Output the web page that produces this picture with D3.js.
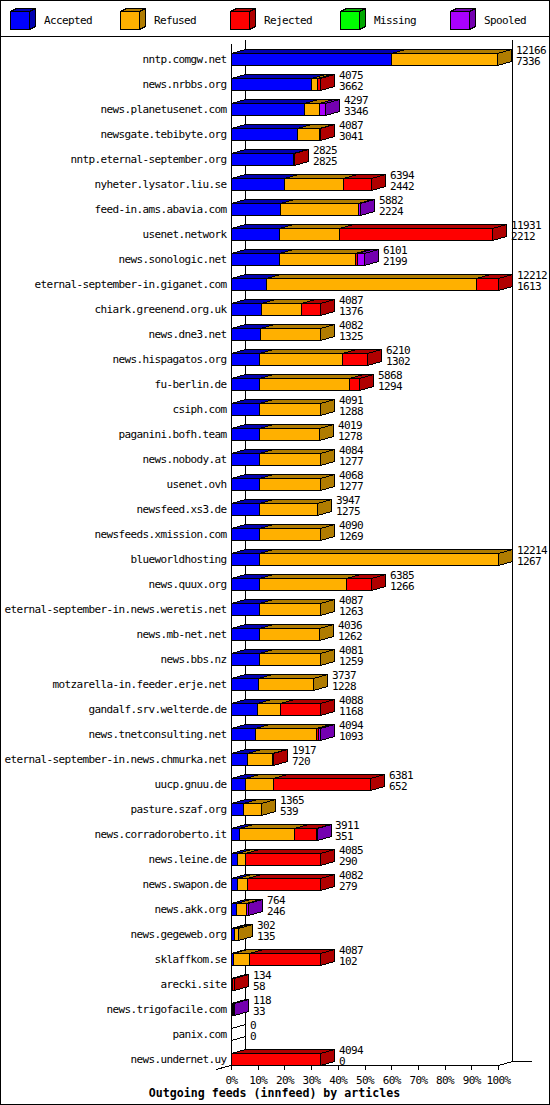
<!DOCTYPE html>
<html><head><meta charset="utf-8">
<script src="https://cdn.jsdelivr.net/npm/d3@7"></script>
<style>
body{margin:0;background:#fff;}
svg text{font-family:"DejaVu Sans Mono",monospace;font-size:11px;letter-spacing:-0.62px;fill:#000;}
</style></head>
<body><div id="chart"></div>
<script>
const sites = ["nntp.comgw.net","news.nrbbs.org","news.planetusenet.com","newsgate.tebibyte.org","nntp.eternal-september.org","nyheter.lysator.liu.se","feed-in.ams.abavia.com","usenet.network","news.sonologic.net","eternal-september-in.giganet.com","chiark.greenend.org.uk","news.dne3.net","news.hispagatos.org","fu-berlin.de","csiph.com","paganini.bofh.team","news.nobody.at","usenet.ovh","newsfeed.xs3.de","newsfeeds.xmission.com","blueworldhosting","news.quux.org","eternal-september-in.news.weretis.net","news.mb-net.net","news.bbs.nz","motzarella-in.feeder.erje.net","gandalf.srv.welterde.de","news.tnetconsulting.net","eternal-september-in.news.chmurka.net","uucp.gnuu.de","pasture.szaf.org","news.corradoroberto.it","news.leine.de","news.swapon.de","news.akk.org","news.gegeweb.org","sklaffkom.se","arecki.site","news.trigofacile.com","panix.com","news.undernet.uy"];
const offered  = [12166,4075,4297,4087,2825,6394,5882,11931,6101,12212,4087,4082,6210,5868,4091,4019,4084,4068,3947,4090,12214,6385,4087,4036,4081,3737,4088,4094,1917,6381,1365,3911,4085,4082,764,302,4087,134,118,0,4094];
const accepted = [7336,3662,3346,3041,2825,2442,2224,2212,2199,1613,1376,1325,1302,1294,1288,1278,1277,1277,1275,1269,1267,1266,1263,1262,1259,1228,1168,1093,720,652,539,351,290,279,246,135,102,58,33,0,0];
const refused  = [4830,280,660,986,0,2680,3588,2740,3480,9575,1810,2757,3774,4103,2803,2741,2807,2791,2672,2821,10947,3990,2824,2774,2822,2509,1075,2780,1170,1280,826,2545,340,440,420,167,737,0,40,0,0];
const rejected = [0,133,0,60,40,1272,0,6979,100,1024,901,0,1134,471,0,0,0,0,0,0,0,1129,0,0,0,0,1845,100,27,4449,0,980,3455,3363,0,0,3248,76,0,0,4094];
const missing  = new Array(41).fill(0);
const spooled  = [0,0,291,0,0,0,70,0,322,0,0,0,0,0,0,0,0,0,0,0,0,0,0,0,0,0,0,121,0,0,0,35,0,0,98,0,0,0,45,0,0];
const seriesNames = ["Accepted","Refused","Rejected","Missing","Spooled"];
const seriesColors = ["#0000ff","#ffb000","#ff0000","#00ff00","#aa00ff"];
const seriesDark   = ["#0000b0","#b07c00","#b00000","#00a800","#7400b0"];
const tickLabels = ["0%","10%","20%","30%","40%","50%","60%","70%","80%","90%","100%"];
const title = "Outgoing feeds (innfeed) by articles";

const W=550,H=1105, DX=14, DY=4;
const svg=d3.select("#chart").append("svg").attr("width",W).attr("height",H)
  .attr("shape-rendering","crispEdges");
svg.append("rect").attr("x",0.5).attr("y",0.5).attr("width",W-1).attr("height",H-1)
  .attr("fill","#fff").attr("stroke","#000");
svg.append("line").attr("x1",0).attr("x2",W).attr("y1",36.5).attr("y2",36.5).attr("stroke","#000");

function box(g,x1,x2,yT,yB,fill,dark,filled=true){
  const p=v=>v+0.5;
  g.append("polygon").attr("points",[[x1,yT],[x1+DX,yT-DY],[x2+DX,yT-DY],[x2,yT]].map(d=>d.map(p).join(",")).join(" "))
    .attr("fill",filled?dark:"none").attr("stroke","#000");
  g.append("polygon").attr("points",[[x2,yT],[x2+DX,yT-DY],[x2+DX,yB-DY],[x2,yB]].map(d=>d.map(p).join(",")).join(" "))
    .attr("fill",filled?dark:"none").attr("stroke","#000");
  if(filled) g.append("rect").attr("x",p(x1)).attr("y",p(yT)).attr("width",x2-x1).attr("height",yB-yT)
    .attr("fill",fill).attr("stroke","#000");
}

// legend
const leg=svg.append("g");
seriesNames.forEach((n,i)=>{
  const x=10+110*i;
  const g=leg.append("g");
  const p=v=>v+0.5;
  g.append("polygon").attr("points",[[x,11],[x+6,8],[x+25,8],[x+19,11]].map(d=>d.map(p).join(",")).join(" ")).attr("fill",seriesDark[i]).attr("stroke","#000");
  g.append("polygon").attr("points",[[x+19,11],[x+25,8],[x+25,26],[x+19,29]].map(d=>d.map(p).join(",")).join(" ")).attr("fill",seriesDark[i]).attr("stroke","#000");
  g.append("rect").attr("x",p(x)).attr("y",p(11)).attr("width",19).attr("height",18).attr("fill",seriesColors[i]).attr("stroke","#000");
  leg.append("text").attr("x",x+34).attr("y",24).text(n);
});

const totals = sites.map((s,i)=>accepted[i]+refused[i]+rejected[i]+missing[i]+spooled[i]);
const maxT = d3.max(totals);
const x = d3.scaleLinear().domain([0,maxT]).range([231,498]);
const xp = d3.scaleLinear().domain([0,100]).range([231,498]);
const y = d3.scaleBand().domain(sites).range([46.5,1071.5]).paddingInner(0.52).paddingOuter(0.26);

const X0=231, X1=498, FLOOR=1065;
// walls
const walls=svg.append("g").attr("stroke","#000");
walls.append("line").attr("x1",X0+DX+0.5).attr("x2",X0+DX+0.5).attr("y1",40).attr("y2",FLOOR-DY+0.5);
walls.append("line").attr("x1",X1+DX+0.5).attr("x2",X1+DX+0.5).attr("y1",40).attr("y2",FLOOR-DY+0.5);
walls.append("line").attr("x1",X0+0.5).attr("x2",X0+0.5).attr("y1",44).attr("y2",FLOOR+0.5);
walls.append("line").attr("x1",X1+0.5).attr("y1",FLOOR+0.5).attr("x2",X1+DX+0.5).attr("y2",FLOOR-DY+0.5);
walls.append("line").attr("x1",X1+DX+0.5).attr("y1",FLOOR-DY+0.5).attr("x2",532).attr("y2",FLOOR-DY+0.5);
walls.append("line").attr("x1",X0+DX+0.5).attr("y1",FLOOR-DY+0.5).attr("x2",216).attr("y2",1069.5);

// axis
const ax=svg.append("g").attr("transform",`translate(0,${FLOOR+0.5})`)
  .call(d3.axisBottom(xp).tickValues(d3.range(0,101,10)).tickFormat((d,i)=>tickLabels[i]).tickSize(4).tickSizeOuter(0));
ax.selectAll("path,line").attr("stroke","#000");
ax.selectAll("text").attr("font-family",null).attr("font-size",null).attr("dy",null).attr("y",18.5);
ax.select(".domain").attr("d",`M${X0+0.5},0H${X1+0.5}`);

// bars
const series=[accepted,refused,rejected,missing,spooled];
const bars=svg.append("g");
sites.forEach((s,i)=>{
  const yT=Math.round(y(s)), yB=yT+12;
  const g=bars.append("g");
  let cum=0;
  if(totals[i]===0){
    box(g,X0,X0,yT,yB,"none","none",false);
  } else {
    series.forEach((arr,k)=>{
      const v=arr[i]; if(!v) return;
      const a=Math.round(x(cum)), b=Math.round(x(cum+v));
      box(g,a,Math.max(b,a+1),yT,yB,seriesColors[k],seriesDark[k]);
      cum+=v;
    });
  }
  const xe=Math.round(x(totals[i]))+DX+5;
  svg.append("text").attr("x",xe).attr("y",yT+1).text(offered[i]);
  svg.append("text").attr("x",xe).attr("y",yB).text(accepted[i]);
  svg.append("text").attr("x",226.6).attr("y",yT+10).attr("text-anchor","end").text(s);
});

svg.append("text").attr("x",274.5).attr("y",1097).attr("text-anchor","middle")
  .style("font-weight","bold").style("font-size","11.6px").style("letter-spacing","0px").text(title);
</script></body></html>
